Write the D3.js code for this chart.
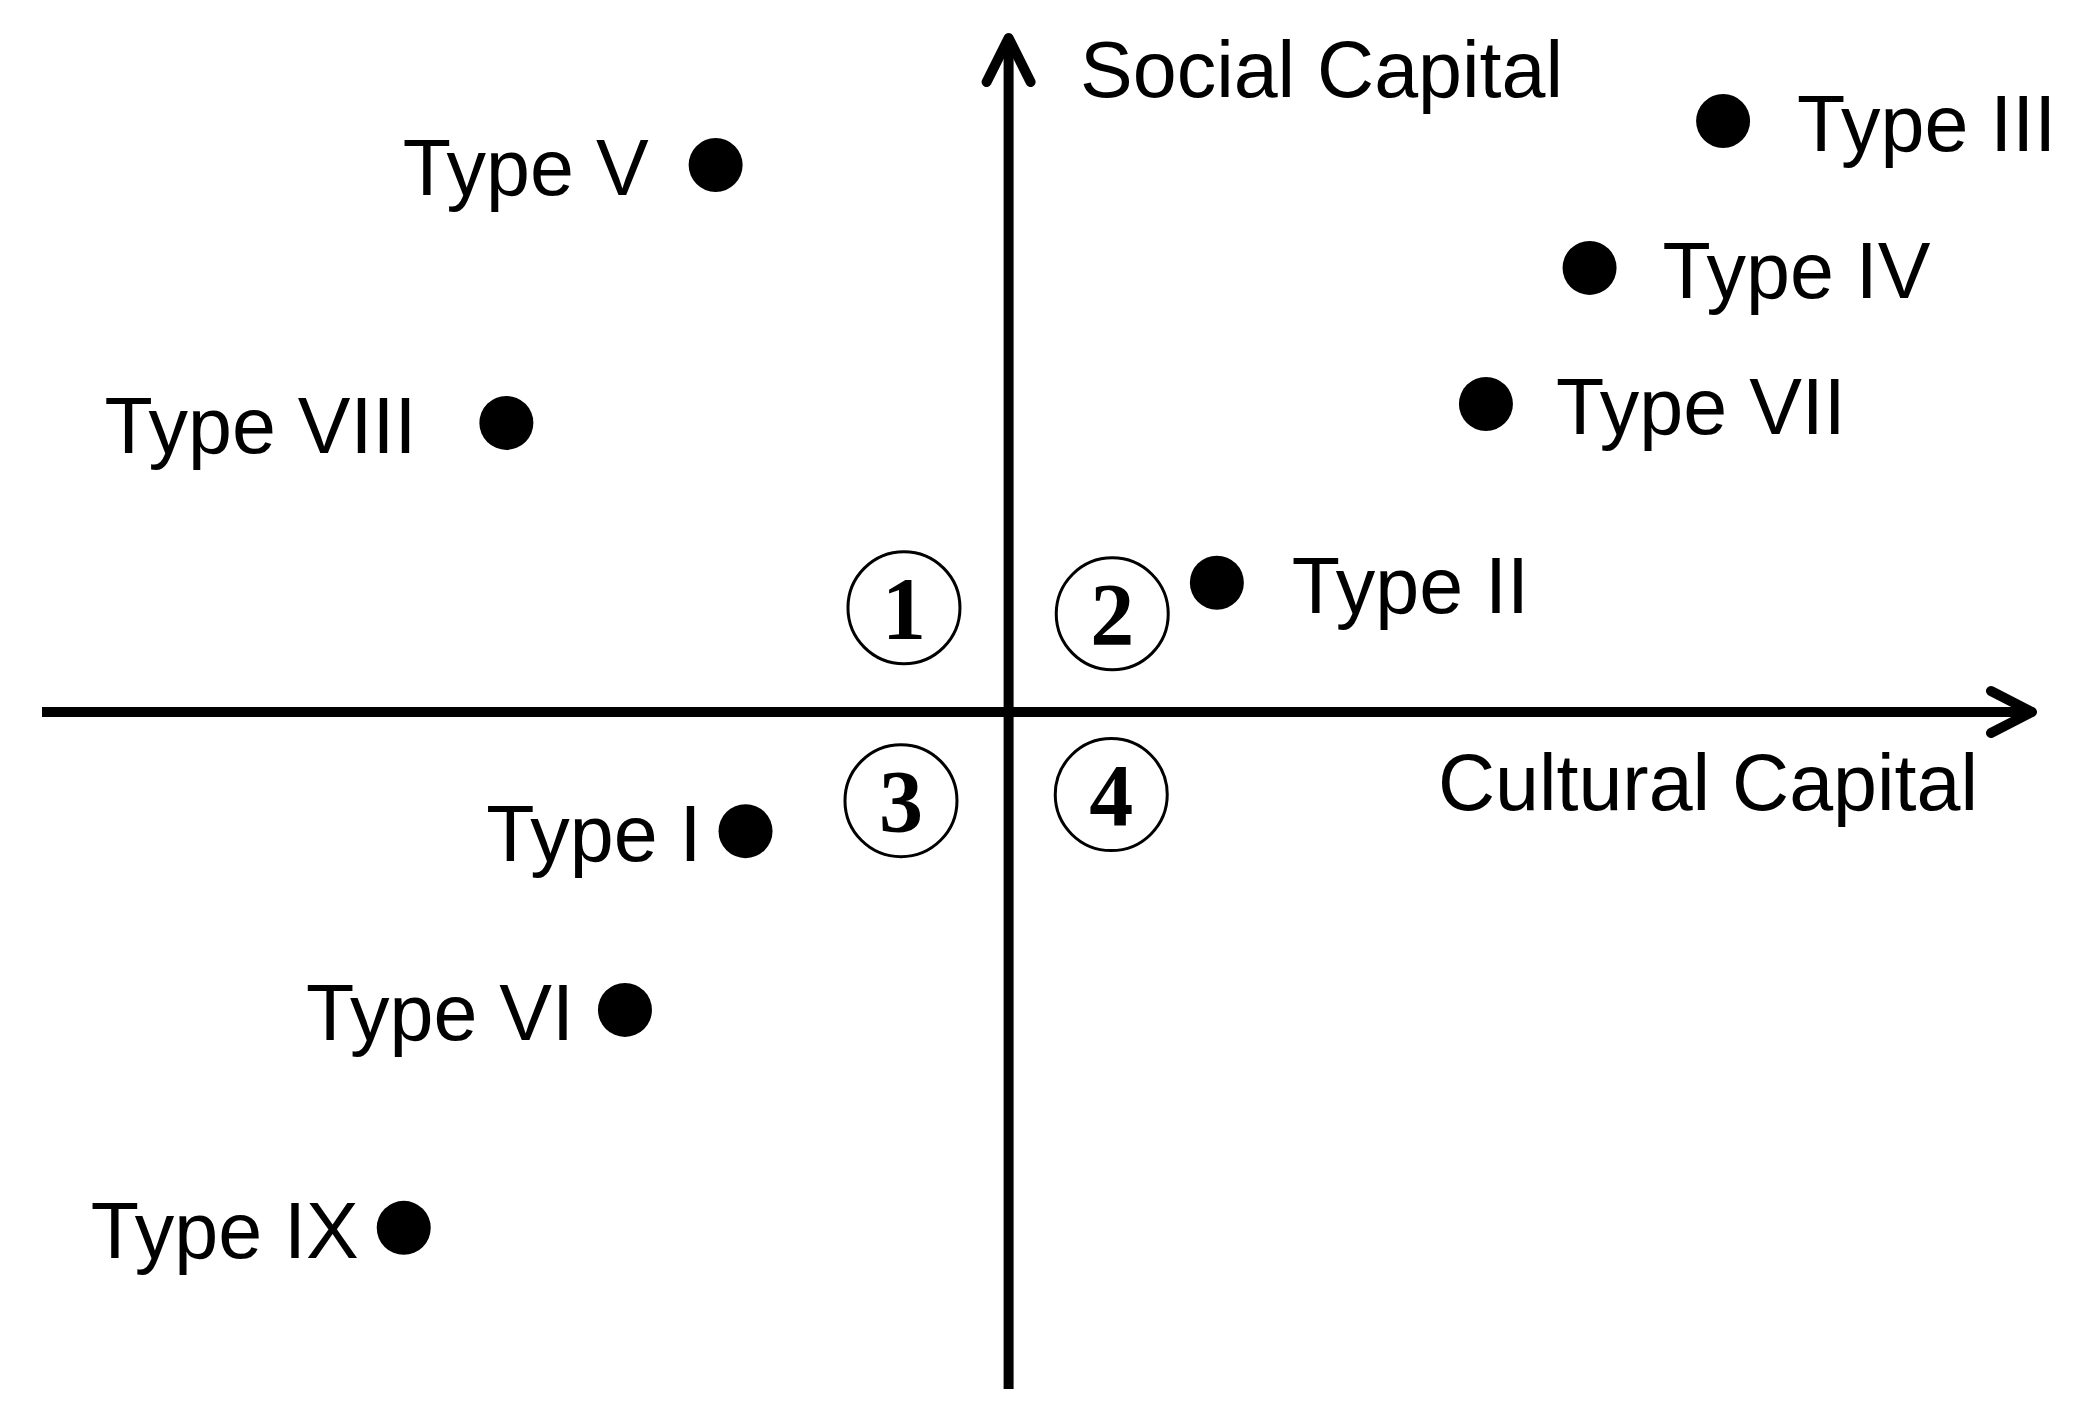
<!DOCTYPE html>
<html>
<head>
<meta charset="utf-8">
<title>Cultural vs Social Capital</title>
<script src="https://cdn.jsdelivr.net/npm/d3@7"></script>
<style>
  html, body { margin: 0; padding: 0; background: #fff; }
  svg { display: block; }
</style>
</head>
<body>
<svg id="chart" width="2078" height="1419"></svg>
<script>
// Types placed on the cultural (x) / social (y) capital plane
const types = ['Type III', 'Type IV', 'Type VII', 'Type II', 'Type V', 'Type VIII', 'Type I', 'Type VI', 'Type IX'];
const cultural = [7.17, 5.83, 4.79, 2.09, -2.94, -5.04, -2.64, -3.85, -6.07];
const social = [8.73, 6.56, 4.55, 1.91, 8.08, 4.27, -1.76, -4.40, -7.62];

// Quadrant numbers
const quadrants = ['1', '2', '3', '4'];
const quadX = [-1.05, 1.04, -1.08, 1.03];
const quadY = [1.54, 1.45, -1.31, -1.22];

// Axis titles
const xTitle = 'Cultural Capital';
const yTitle = 'Social Capital';

// label layout: which side of the dot, and the gap to the dot edge
const labelSide = ['right', 'right', 'right', 'right', 'left', 'left', 'left', 'left', 'left'];
const labelGap = [47, 46, 43, 48, 40, 63, 17, 24, 18];

const svg = d3.select('#chart');
const fontSans = '"Liberation Sans", Arial, sans-serif';
const fontSize = 79;
const dotR = 27;

const x = d3.scaleLinear().domain([-9.7, 10.3]).range([42, 2035]);
const y = d3.scaleLinear().domain([-10, 10]).range([1389, 35]);

// Axes
const axes = svg.append('g')
  .attr('stroke', '#000')
  .attr('fill', 'none')
  .attr('stroke-width', 10);

axes.append('line')
  .attr('x1', x(-9.7)).attr('x2', x(10.3) - 8)
  .attr('y1', y(0)).attr('y2', y(0));
axes.append('line')
  .attr('x1', x(0)).attr('x2', x(0))
  .attr('y1', y(-10)).attr('y2', y(10) + 8);

// arrow heads (open chevrons)
axes.append('path')
  .attr('stroke-linecap', 'round')
  .attr('stroke-linejoin', 'round')
  .attr('d', d3.line()([[x(10.3) - 44, y(0) - 21], [x(10.3) - 3, y(0)], [x(10.3) - 44, y(0) + 21]]));
axes.append('path')
  .attr('stroke-linecap', 'round')
  .attr('stroke-linejoin', 'round')
  .attr('d', d3.line()([[x(0) - 22, y(10) + 47], [x(0), y(10) + 3], [x(0) + 22, y(10) + 47]]));

// Axis titles
svg.append('text')
  .attr('x', 1080).attr('y', 97)
  .attr('font-family', fontSans)
  .attr('font-size', fontSize)
  .text(yTitle);
svg.append('text')
  .attr('x', 1978).attr('y', 810)
  .attr('text-anchor', 'end')
  .attr('font-family', fontSans)
  .attr('font-size', fontSize)
  .text(xTitle);

// Quadrant markers
const q = svg.append('g').selectAll('g')
  .data(quadrants)
  .join('g')
  .attr('transform', (d, i) => `translate(${x(quadX[i])},${y(quadY[i])})`);
q.append('circle')
  .attr('r', 56)
  .attr('fill', 'none')
  .attr('stroke', '#000')
  .attr('stroke-width', 3);
q.append('text')
  .attr('y', 30)
  .attr('text-anchor', 'middle')
  .attr('font-family', '"Liberation Serif", "Times New Roman", serif')
  .attr('font-weight', 'bold')
  .attr('font-size', 88)
  .text(d => d);

// Points and labels
const pts = svg.append('g').selectAll('g')
  .data(types)
  .join('g')
  .attr('transform', (d, i) => `translate(${x(cultural[i])},${y(social[i])})`);
pts.append('circle')
  .attr('r', dotR)
  .attr('fill', '#000');
pts.append('text')
  .attr('x', (d, i) => labelSide[i] === 'right' ? dotR + labelGap[i] : -(dotR + labelGap[i]))
  .attr('y', 30)
  .attr('text-anchor', (d, i) => labelSide[i] === 'right' ? 'start' : 'end')
  .attr('font-family', fontSans)
  .attr('font-size', fontSize)
  .text(d => d);
</script>
</body>
</html>
